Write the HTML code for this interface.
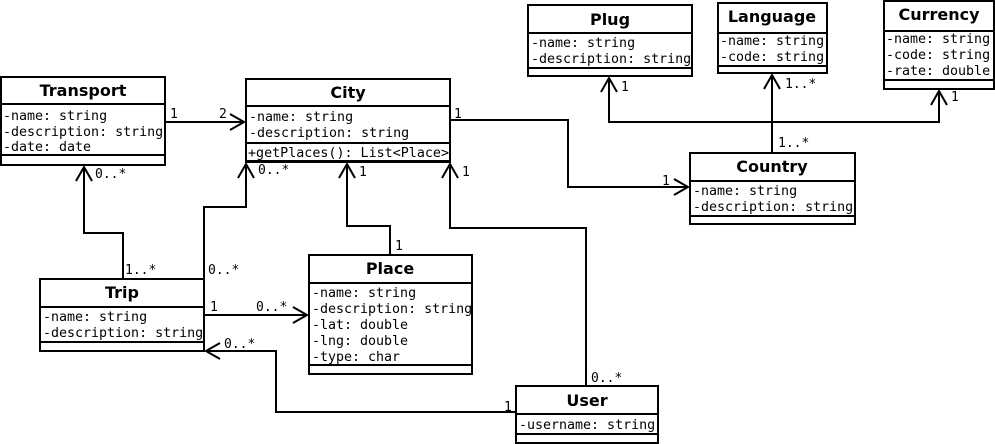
<!DOCTYPE html>
<html><head><meta charset="utf-8"><style>
body{margin:0;background:#fff;}
svg{display:block}
.t{font-family:"DejaVu Sans","Liberation Sans",sans-serif;font-weight:bold;font-size:16px;text-anchor:middle}
.a{font-family:"DejaVu Sans Mono","Liberation Mono",monospace;font-size:13.3px}
.l{font-family:"DejaVu Sans Mono","Liberation Mono",monospace;font-size:13px}
</style></head><body>
<svg width="995" height="444" xmlns="http://www.w3.org/2000/svg">
<g fill="none" stroke="#000" stroke-width="2">
<rect x="1" y="77" width="164" height="88"/><line x1="1" y1="104" x2="165" y2="104"/><line x1="1" y1="155" x2="165" y2="155"/>
<rect x="246" y="79" width="204" height="83"/><line x1="246" y1="106" x2="450" y2="106"/><line x1="246" y1="143" x2="450" y2="143"/><line x1="246" y1="161" x2="450" y2="161"/>
<rect x="528" y="5" width="164" height="71"/><line x1="528" y1="33" x2="692" y2="33"/><line x1="528" y1="68" x2="692" y2="68"/>
<rect x="718" y="3" width="109" height="70"/><line x1="718" y1="33" x2="827" y2="33"/><line x1="718" y1="66" x2="827" y2="66"/>
<rect x="884" y="1" width="110" height="88"/><line x1="884" y1="31" x2="994" y2="31"/><line x1="884" y1="80" x2="994" y2="80"/>
<rect x="690" y="153" width="165" height="71"/><line x1="690" y1="181" x2="855" y2="181"/><line x1="690" y1="216" x2="855" y2="216"/>
<rect x="40" y="279" width="164" height="72"/><line x1="40" y1="307" x2="204" y2="307"/><line x1="40" y1="342" x2="204" y2="342"/>
<rect x="309" y="255" width="163" height="119"/><line x1="309" y1="283" x2="472" y2="283"/><line x1="309" y1="365" x2="472" y2="365"/>
<rect x="516" y="386" width="142" height="57"/><line x1="516" y1="414" x2="658" y2="414"/><line x1="516" y1="434" x2="658" y2="434"/>
<polyline points="165,122 244,122"/><polyline points="230,114 244,122 230,130"/>
<polyline points="450,120 568,120 568,187 688,187"/><polyline points="674,179 688,187 674,195"/>
<polyline points="772,153 772,122 609,122 609,78"/><polyline points="601,92 609,78 617,92"/>
<polyline points="772,122 939,122 939,91"/><polyline points="931,105 939,91 947,105"/>
<polyline points="772,122 772,75"/><polyline points="764,89 772,75 780,89"/>
<polyline points="123,279 123,233 84,233 84,167"/><polyline points="76,181 84,167 92,181"/>
<polyline points="204,279 204,207 246,207 246,164"/><polyline points="238,178 246,164 254,178"/>
<polyline points="390,255 390,226 347,226 347,164"/><polyline points="339,178 347,164 355,178"/>
<polyline points="586,386 586,228 450,228 450,164"/><polyline points="442,178 450,164 458,178"/>
<polyline points="204,315 307,315"/><polyline points="293,307 307,315 293,323"/>
<polyline points="516,412 276,412 276,351 206,351"/><polyline points="220,343 206,351 220,359"/>
</g>
<g fill="#000">
<text class="t" x="83" y="96">Transport</text>
<text class="a" x="3" y="120">-name: string</text><text class="a" x="3" y="136">-description: string</text><text class="a" x="3" y="151">-date: date</text>
<text class="t" x="348" y="98">City</text>
<text class="a" x="249" y="121">-name: string</text><text class="a" x="249" y="137">-description: string</text>
<text class="a" x="248" y="157" textLength="201" lengthAdjust="spacingAndGlyphs">+getPlaces(): List&lt;Place&gt;</text>
<text class="t" x="610" y="25">Plug</text>
<text class="a" x="531" y="47">-name: string</text><text class="a" x="531" y="63">-description: string</text>
<text class="t" x="772" y="22">Language</text>
<text class="a" x="720" y="45">-name: string</text><text class="a" x="720" y="61">-code: string</text>
<text class="t" x="939" y="20">Currency</text>
<text class="a" x="886" y="43">-name: string</text><text class="a" x="886" y="59">-code: string</text><text class="a" x="886" y="75">-rate: double</text>
<text class="t" x="772" y="172">Country</text>
<text class="a" x="693" y="195">-name: string</text><text class="a" x="693" y="211">-description: string</text>
<text class="t" x="122" y="298">Trip</text>
<text class="a" x="43" y="321">-name: string</text><text class="a" x="43" y="337">-description: string</text>
<text class="t" x="390" y="274">Place</text>
<text class="a" x="312" y="297">-name: string</text><text class="a" x="312" y="313">-description: string</text><text class="a" x="312" y="329">-lat: double</text><text class="a" x="312" y="345">-lng: double</text><text class="a" x="312" y="361">-type: char</text>
<text class="t" x="587" y="406">User</text>
<text class="a" x="519" y="429">-username: string</text>
<text class="l" x="170" y="118">1</text><text class="l" x="219" y="118">2</text>
<text class="l" x="454" y="118">1</text><text class="l" x="662" y="185">1</text>
<text class="l" x="621" y="91">1</text><text class="l" x="785" y="88">1..*</text><text class="l" x="951" y="101">1</text><text class="l" x="778" y="147">1..*</text>
<text class="l" x="125" y="274">1..*</text><text class="l" x="95" y="178">0..*</text>
<text class="l" x="208" y="274">0..*</text><text class="l" x="258" y="174">0..*</text>
<text class="l" x="395" y="250">1</text><text class="l" x="359" y="176">1</text>
<text class="l" x="591" y="382">0..*</text><text class="l" x="462" y="176">1</text>
<text class="l" x="210" y="311">1</text><text class="l" x="256" y="311">0..*</text>
<text class="l" x="504" y="411">1</text><text class="l" x="224" y="348">0..*</text>
</g>
</svg>
</body></html>
